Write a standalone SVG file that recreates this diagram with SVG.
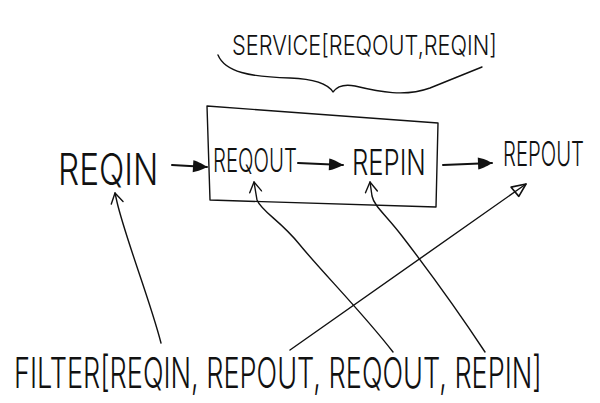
<svg xmlns="http://www.w3.org/2000/svg" width="600" height="403" viewBox="0 0 600 403">
<style>
  text { font-family: Inter, "Liberation Sans", Arial, sans-serif; font-weight: 300; fill: #111; }
  .ln { fill: none; stroke: #111; stroke-width: 1.4; stroke-linecap: round; stroke-linejoin: round; }
  .thick { fill: none; stroke: #111; stroke-width: 2; stroke-linecap: round; }
</style>
<defs>
  <marker id="fill" viewBox="0 0 16 16" refX="15" refY="8" markerWidth="16" markerHeight="16" markerUnits="userSpaceOnUse" orient="auto">
    <path d="M1,2 C6,3 12,6 15,8 C12,10 6,13 1,14 Z" fill="#111"/>
  </marker>
  <marker id="chev" viewBox="0 0 14 14" refX="12" refY="7" markerWidth="14" markerHeight="14" markerUnits="userSpaceOnUse" orient="auto">
    <path d="M2,1 L12,7 L2,13" fill="none" stroke="#111" stroke-width="1.4" stroke-linecap="round" stroke-linejoin="round"/>
  </marker>
  <marker id="tri" viewBox="0 0 18 16" refX="16" refY="8" markerWidth="18" markerHeight="16" markerUnits="userSpaceOnUse" orient="auto">
    <path d="M2,2 L16,8 L3,14 Z" fill="none" stroke="#111" stroke-width="1.6" stroke-linejoin="round"/>
  </marker>
</defs>
<rect width="600" height="403" fill="#fff"/>

<g id="service-label">
  <text transform="translate(232,55) scale(0.81,1)" font-size="27" textLength="327" lengthAdjust="spacingAndGlyphs">SERVICE[REQOUT,REQIN]</text>
  <path class="ln" d="M218,55 C225,72 250,77 290,78 C315,79 328,84 333,92 C338,85 345,84 355,86 C380,92 405,97 430,88 C450,80 470,72 482,67"/>
</g>

<g id="service-box">
  <path class="ln" d="M207,106 L438,123 L436,207 L210,200 Z"/>
</g>

<g id="reqin">
  <text transform="translate(58,185) scale(0.76,1)" font-size="44" textLength="132" lengthAdjust="spacingAndGlyphs">REQIN</text>
</g>
<g id="reqout">
  <text transform="translate(213,172) scale(0.64,1)" font-size="32" textLength="131" lengthAdjust="spacingAndGlyphs">REQOUT</text>
</g>
<g id="repin">
  <text transform="translate(352,175) scale(0.71,1)" font-size="36" textLength="104" lengthAdjust="spacingAndGlyphs">REPIN</text>
</g>
<g id="repout">
  <text transform="translate(503,166) scale(0.6,1)" font-size="34" textLength="135" lengthAdjust="spacingAndGlyphs">REPOUT</text>
</g>
<g id="filter">
  <text transform="translate(14,388) scale(0.65,1)" font-size="42" textLength="812" lengthAdjust="spacingAndGlyphs">FILTER[REQIN, REPOUT, REQOUT, REPIN]</text>
</g>

<g id="connectors">
  <path class="thick" d="M172,165 L207,167" marker-end="url(#fill)"/>
  <path class="thick" d="M298,163 L343,165" marker-end="url(#fill)"/>
  <path class="thick" d="M443,165 L492,163" marker-end="url(#fill)"/>
  <path class="ln" d="M161,343 C150,300 126,240 117,202 L115,193" marker-end="url(#chev)"/>
  <path class="ln" d="M393,352 C362,312 322,272 300,245 C280,220 262,212 257,200 L254,182" marker-end="url(#chev)"/>
  <path class="ln" d="M485,352 C452,302 422,262 402,236 C386,215 374,206 372,196 L370,182" marker-end="url(#chev)"/>
  <path class="ln" d="M290,350 L526,184" marker-end="url(#tri)"/>
</g>
</svg>
